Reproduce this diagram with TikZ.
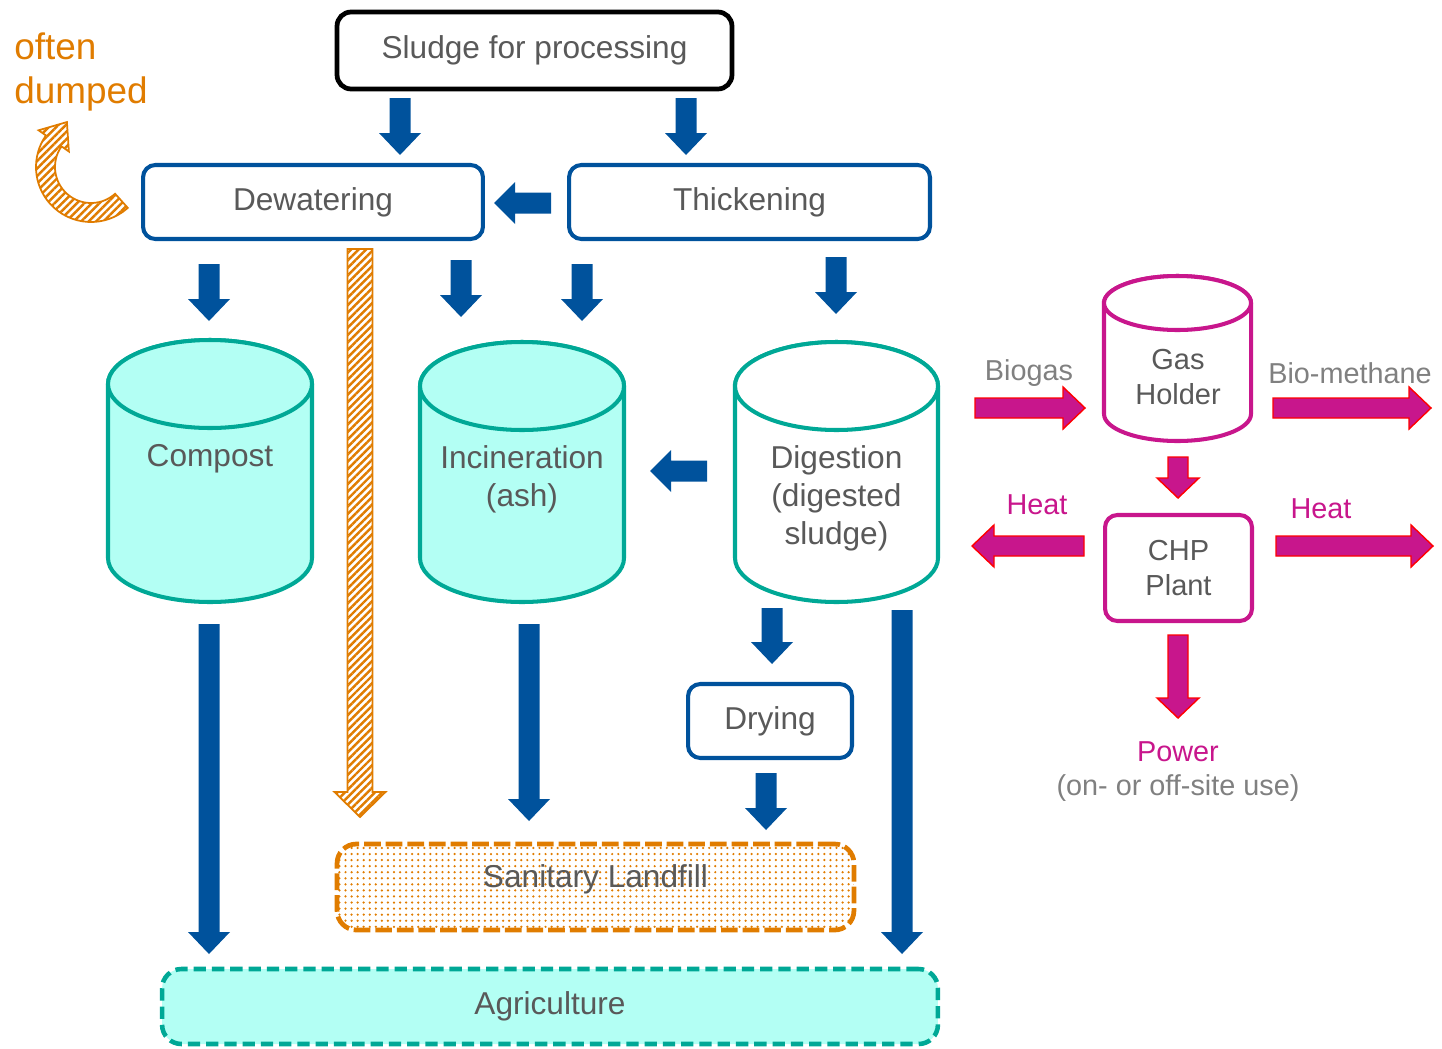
\documentclass[tikz,border=0pt]{standalone}
\usepackage{fontspec}
\setmainfont{Liberation Sans}
\usetikzlibrary{patterns.meta,calc}
\definecolor{cblue}{HTML}{00529C}
\definecolor{cteal}{HTML}{00A896}
\definecolor{cfill}{HTML}{B3FFF4}
\definecolor{corange}{HTML}{E07C00}
\definecolor{cmag}{HTML}{C8168C}
\definecolor{ctext}{HTML}{595959}
\definecolor{clight}{HTML}{808080}
\tikzset{
  big/.style={font=\fontsize{18}{21.6}\selectfont, text=ctext},
  small/.style={font=\fontsize{16.4}{19.8}\selectfont},
  box/.style={draw=#1, line width=2.3pt, rounded corners=7pt, fill=white, big, inner sep=0pt},
  cylteal/.style={draw=cteal, line width=2.3pt, fill=cfill},
  cylwhite/.style={draw=cteal, line width=2.3pt, fill=white},
  cylmag/.style={draw=cmag, line width=2.3pt, fill=white},
  bluearrow/.style={fill=cblue},
  pinkarrow/.style={fill=cmag, draw=red, line width=0.8pt, line join=miter},
  hatch/.style={draw=corange, line width=1pt, pattern={Lines[angle=45,distance=3pt,line width=1.4pt]}, pattern color=corange},
}
\newcommand\varrow[7]{\path[#1] ({#2-#5},#3) -- ({#2+#5},#3) -- ({#2+#5},{#4-(#7)}) -- ({#2+#6},{#4-(#7)}) -- (#2,#4) -- ({#2-#6},{#4-(#7)}) -- ({#2-#5},{#4-(#7)}) -- cycle;}
\newcommand\harrow[7]{\path[#1] (#3,{#2-#5}) -- (#3,{#2+#5}) -- ({#4-(#7)},{#2+#5}) -- ({#4-(#7)},{#2+#6}) -- (#4,#2) -- ({#4-(#7)},{#2-#6}) -- ({#4-(#7)},{#2-#5}) -- cycle;}
\newcommand\cyl[6]{%
  \path[#1] ({#2-#5},{#3+#6}) -- ({#2-#5},{#4-#6}) arc[start angle=180,end angle=0,x radius=#5,y radius=#6] -- ({#2+#5},{#3+#6}) arc[start angle=0,end angle=-180,x radius=#5,y radius=#6] -- cycle;
  \path[#1] (#2,{#3+#6}) ellipse[x radius=#5,y radius=#6];}
\begin{document}
\begin{tikzpicture}[x=0.02cm,y=-0.02cm]
\useasboundingbox (0,0) rectangle (1442,1048);

% boxes
\node[box=black, line width=2.7pt, rounded corners=8pt, minimum width=7.9cm, minimum height=1.54cm] (sludge) at (534.5,50.5) {Sludge for processing};
\node[box=cblue, minimum width=6.8cm, minimum height=1.48cm] (dew) at (313,202) {Dewatering};
\node[box=cblue, minimum width=7.22cm, minimum height=1.48cm] (thick) at (749.5,202) {Thickening};
\node[box=cblue, minimum width=3.28cm, minimum height=1.48cm] (dry) at (770,721) {Drying};
\node[box=cmag, minimum width=2.94cm, minimum height=2.12cm, align=center, font=\fontsize{16.5}{19.8}\selectfont] (chp) at (1178.5,568) {CHP\\Plant};
\node[draw=corange, line width=2.7pt, dash pattern=on 9.5pt off 2.8pt, rounded corners=11pt, pattern={Dots[distance=3.45pt,radius=0.7pt]}, pattern color=corange, minimum width=10.34cm, minimum height=1.72cm, big, inner sep=0pt] (landfill) at (595.5,887) {};
\node[big] (landfilltext) at (595.5,879) {Sanitary Landfill};
\node[draw=cteal, line width=2.6pt, dash pattern=on 7pt off 3.4pt, rounded corners=11pt, fill=cfill, minimum width=15.52cm, minimum height=1.5cm, big, inner sep=0pt] (agri) at (550,1006.5) {Agriculture};

% cylinders
\cyl{cylteal}{210}{340}{602}{102}{44}
\node[big] (compost) at (210,459) {Compost};
\cyl{cylteal}{522}{342}{602}{102}{44}
\node[big, align=center] (incin) at (522,479) {Incineration\\(ash)};
\cyl{cylwhite}{836.5}{342}{602}{101.5}{44}
\node[big, align=center] (dig) at (836.5,498) {Digestion\\(digested\\sludge)};
\cyl{cylmag}{1177.5}{276}{441}{73.5}{27}
\node[align=center, text=ctext, font=\fontsize{16.5}{19.8}\selectfont] (gas) at (1178,377) {Gas\\Holder};

% blue arrows
\varrow{bluearrow}{400}{98}{155}{10.5}{21}{22}
\varrow{bluearrow}{686}{98}{155}{10.5}{21}{22}
\harrow{bluearrow}{203}{551}{494}{10.5}{21}{-21}
\varrow{bluearrow}{209}{264}{321}{10.5}{21}{22}
\varrow{bluearrow}{461}{260}{317}{10.5}{21}{22}
\varrow{bluearrow}{582}{264}{321}{10.5}{21}{22}
\varrow{bluearrow}{836}{257}{314}{10.5}{21}{22}
\harrow{bluearrow}{471}{707}{650}{10.5}{21}{-21}
\varrow{bluearrow}{209}{624}{954}{10.5}{21}{22}
\varrow{bluearrow}{529}{624}{821}{10.5}{21}{22}
\varrow{bluearrow}{772}{608}{664}{10.5}{21}{22}
\varrow{bluearrow}{766}{773}{830}{10.5}{21}{22}
\varrow{bluearrow}{902}{610}{954}{10.5}{21}{22}

% hatched straight arrow
\varrow{hatch}{360}{249}{817}{12.5}{25.5}{25}

% curved hatched arrow
\coordinate (C) at (91,167);
\path[hatch] ($(C)+(48:36)$) -- ($(C)+(48:55)$) arc[start angle=48,end angle=215,radius=55]
  -- ($(C)+(215:64)$) -- ($(C)+(215:45.5)+(305:23)$) -- ($(C)+(215:27)$) -- ($(C)+(215:36)$)
  arc[start angle=215,end angle=48,radius=36] -- cycle;
\node[anchor=west, inner sep=0pt, align=left, text=corange, font=\fontsize{21}{25.5}\selectfont] (dumped) at (14,72) {often\\dumped};

% pink arrows
\harrow{pinkarrow}{408}{975}{1085}{10}{21}{22}
\harrow{pinkarrow}{408}{1273}{1431}{10}{21}{22}
\harrow{pinkarrow}{546}{1084}{972}{10}{21}{-22}
\harrow{pinkarrow}{546}{1276}{1433}{10}{21}{22}
\varrow{pinkarrow}{1178}{457}{498}{10}{21}{20}
\varrow{pinkarrow}{1178}{635}{718}{10}{21}{20}

% labels
\node[small, text=clight] (biogas) at (1029,373) {Biogas};
\node[small, text=clight] (biometh) at (1350,373) {Bio-methane};
\node[small, text=cmag] (heatl) at (1037,505) {Heat};
\node[small, text=cmag] (heatr) at (1321,509) {Heat};
\node[small, text=cmag] (power) at (1178,752) {Power};
\node[small, text=clight] (use) at (1178,788) {(on- or off-site use)};
\end{tikzpicture}
\end{document}
